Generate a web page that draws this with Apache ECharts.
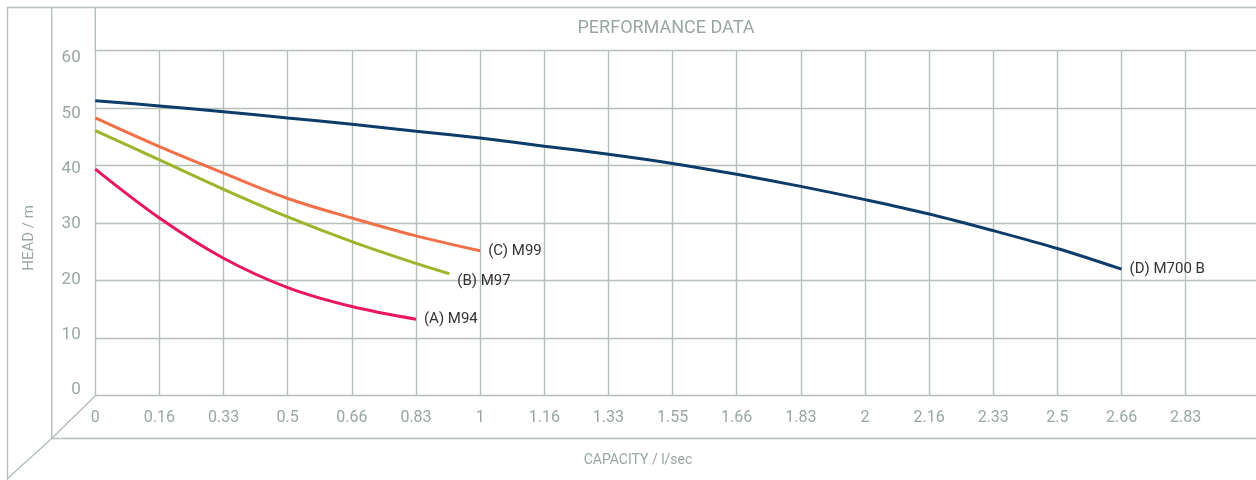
<!DOCTYPE html>
<html>
<head>
<meta charset="utf-8">
<script src="https://cdn.jsdelivr.net/npm/echarts@6/dist/echarts.min.js"></script>
<style>
  html, body { margin: 0; padding: 0; background: #ffffff; }
  #chart { width: 1256px; height: 480px; }
</style>
</head>
<body>
<div id="chart"></div>
<script>
// ---- data ----
const titleText = 'PERFORMANCE DATA';
const xAxisName = 'CAPACITY / l/sec';
const yAxisName = 'HEAD / m';

const xTickValues = [0, 0.1667, 0.3333, 0.5, 0.6667, 0.8333, 1, 1.1667, 1.3333, 1.5, 1.6667, 1.8333, 2, 2.1667, 2.3333, 2.5, 2.6667, 2.8333];
const xTickLabels = ['0', '0.16', '0.33', '0.5', '0.66', '0.83', '1', '1.16', '1.33', '1.55', '1.66', '1.83', '2', '2.16', '2.33', '2.5', '2.66', '2.83'];

const seriesNames = ['(A) M94', '(B) M97', '(C) M99', '(D) M700 B'];

const capacityA = [0, 0.1667, 0.3333, 0.5, 0.6667, 0.8333];
const headA     = [39.4, 30.9, 23.9, 18.8, 15.5, 13.3];

const capacityB = [0, 0.1667, 0.3333, 0.5, 0.6667, 0.8333, 0.92];
const headB     = [46.1, 41.0, 35.9, 31.1, 26.8, 23.0, 21.2];

const capacityC = [0, 0.1667, 0.3333, 0.5, 0.6667, 0.8333, 1];
const headC     = [48.3, 43.3, 38.7, 34.3, 30.9, 27.8, 25.2];

const capacityD = [0, 0.1667, 0.3333, 0.5, 0.6667, 0.8333, 1, 1.1667, 1.3333, 1.5, 1.6667, 1.8333, 2, 2.1667, 2.3333, 2.5, 2.6667];
const headD     = [51.3, 50.4, 49.4, 48.3, 47.2, 46.0, 44.8, 43.4, 42.0, 40.4, 38.5, 36.4, 34.1, 31.6, 28.7, 25.6, 22.0];

// ---- styles ----
const gridColor = '#b4bfba';
const textGray = '#9aa7a1';
const font = 'Roboto, "Noto Sans", sans-serif';
const colors = ['#e8175f', '#9db52a', '#f26f47', '#0d3c6a'];

function pairs(xs, ys) { return xs.map((x, i) => [x, ys[i]]); }
function xLabel(v) {
  let best = 0, bd = Infinity;
  xTickValues.forEach((t, i) => { const d = Math.abs(t - v); if (d < bd) { bd = d; best = i; } });
  return xTickLabels[best];
}

const dataSets = [pairs(capacityA, headA), pairs(capacityB, headB), pairs(capacityC, headC), pairs(capacityD, headD)];
const labelOffsets = [[0, 0], [0, 7], [0, 0], [0, 0]];

const series = dataSets.map((d, i) => ({
  name: seriesNames[i],
  type: 'line',
  xAxisIndex: 0,
  yAxisIndex: 0,
  data: d,
  smooth: 0.35,
  showSymbol: false,
  silent: true,
  lineStyle: { width: 3, color: colors[i] },
  itemStyle: { color: colors[i] },
  endLabel: {
    show: true,
    formatter: '{a}',
    color: '#333333',
    fontSize: 15,
    fontFamily: font,
    distance: 8,
    offset: labelOffsets[i]
  }
}));

const lineStyle = { stroke: gridColor, lineWidth: 1.4, fill: null };

const chart = echarts.init(document.getElementById('chart'), null, { renderer: 'canvas' });
chart.setOption({
  animation: false,
  backgroundColor: '#ffffff',
  title: {
    text: titleText,
    left: 666,
    top: 19,
    padding: 0,
    textAlign: 'center',
    textStyle: { color: textGray, fontSize: 18, fontWeight: 'normal', fontFamily: font }
  },
  grid: [
    { left: 95.3, top: 50.7, width: 1193, height: 345, outerBoundsMode: 'none', containLabel: false },
    { left: 95.3, top: 58, width: 10, height: 332, outerBoundsMode: 'none', containLabel: false }
  ],
  xAxis: [
    {
      type: 'value',
      gridIndex: 0,
      min: 0,
      max: 3.1,
      axisLine: { show: false },
      axisTick: { show: false, customValues: xTickValues },
      splitLine: { show: true, lineStyle: { color: gridColor, width: 1.4 } },
      axisLabel: {
        customValues: xTickValues,
        formatter: xLabel,
        margin: 14,
        color: textGray,
        fontSize: 16,
        fontWeight: 'normal',
        fontFamily: font
      }
    },
    { type: 'value', gridIndex: 1, min: 0, max: 1, show: false }
  ],
  yAxis: [
    {
      type: 'value',
      gridIndex: 0,
      min: 0,
      max: 60,
      interval: 10,
      axisLine: { show: false },
      axisTick: { show: false },
      axisLabel: { show: false },
      splitLine: { show: true, lineStyle: { color: gridColor, width: 1.4 } }
    },
    {
      type: 'value',
      gridIndex: 1,
      min: 0,
      max: 60,
      interval: 10,
      axisLine: { show: false },
      axisTick: { show: false },
      splitLine: { show: false },
      axisLabel: {
        margin: 14.6,
        color: textGray,
        fontSize: 17,
        fontWeight: 'normal',
        fontFamily: font
      }
    }
  ],
  graphic: [
    { type: 'polyline', silent: true, shape: { points: [[1256, 7.5], [7.5, 7.5], [7.5, 480]] }, style: lineStyle },
    { type: 'polyline', silent: true, shape: { points: [[7.5, 478.5], [51.7, 438.5], [95.3, 395.7]] }, style: lineStyle },
    { type: 'polyline', silent: true, shape: { points: [[51.7, 7.5], [51.7, 438.5], [1256, 438.5]] }, style: lineStyle },
    { type: 'line', silent: true, shape: { x1: 95.3, y1: 7.5, x2: 95.3, y2: 51 }, style: lineStyle },
    {
      type: 'text', silent: true, x: 29, y: 238, rotation: Math.PI / 2,
      style: { text: yAxisName, fill: textGray, fontSize: 15, fontWeight: 'normal', fontFamily: font, align: 'center', verticalAlign: 'middle' }
    },
    {
      type: 'text', silent: true, x: 638, y: 460,
      style: { text: xAxisName, fill: textGray, fontSize: 14, fontWeight: 'normal', fontFamily: font, align: 'center', verticalAlign: 'middle' }
    }
  ],
  series: series
});
</script>
</body>
</html>
